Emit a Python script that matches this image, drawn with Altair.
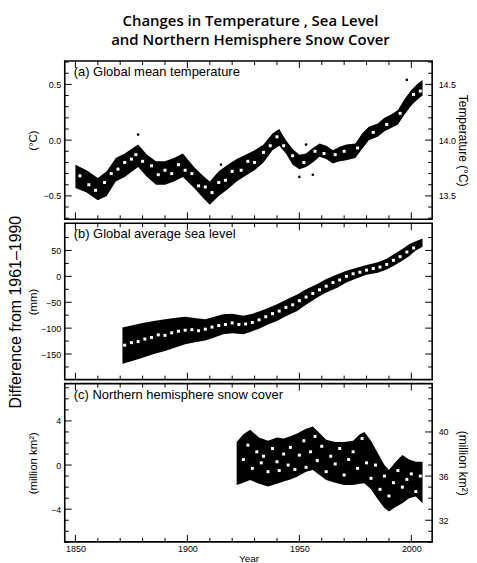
import altair as alt
import pandas as pd

FONT = "Liberation Sans"

# ---------------- (a) Global mean temperature ----------------
temp_years = [1850, 1855, 1860, 1864, 1868, 1872, 1878, 1882, 1886, 1890, 1894, 1898, 1903, 1907,
              1910, 1914, 1918, 1922, 1926, 1930, 1934, 1938, 1941, 1944, 1947, 1950, 1953, 1956,
              1959, 1962, 1965, 1968, 1971, 1975, 1978, 1981, 1985, 1988, 1991, 1994, 1997, 2000,
              2003, 2005]
temp_lo = [-0.43, -0.47, -0.54, -0.50, -0.37, -0.33, -0.24, -0.33, -0.40, -0.40, -0.37, -0.33, -0.43,
           -0.52, -0.58, -0.50, -0.44, -0.37, -0.32, -0.27, -0.20, -0.09, -0.05, -0.12, -0.22, -0.26,
           -0.24, -0.20, -0.15, -0.17, -0.21, -0.19, -0.18, -0.16, -0.08, 0.00, 0.03, 0.08, 0.11,
           0.14, 0.23, 0.31, 0.37, 0.40]
temp_hi = [-0.22, -0.27, -0.34, -0.28, -0.16, -0.12, -0.04, -0.13, -0.19, -0.19, -0.16, -0.12, -0.24,
           -0.32, -0.37, -0.28, -0.22, -0.17, -0.13, -0.09, -0.04, 0.06, 0.10, 0.00, -0.08, -0.13,
           -0.12, -0.07, -0.03, -0.05, -0.09, -0.06, -0.04, -0.03, 0.06, 0.12, 0.15, 0.20, 0.23,
           0.27, 0.37, 0.45, 0.51, 0.54]
temp_dot_years = [1852, 1856, 1859, 1863, 1866, 1869, 1872, 1875, 1877, 1880, 1884, 1887, 1890, 1893,
                  1896, 1899, 1902, 1905, 1908, 1911, 1914, 1917, 1920, 1924, 1927, 1930, 1934, 1937,
                  1940, 1943, 1947, 1952, 1957, 1961, 1966, 1970, 1976, 1983, 1989, 1995, 2001, 2004]
temp_dot_vals = [-0.32, -0.40, -0.45, -0.38, -0.30, -0.26, -0.20, -0.17, -0.13, -0.19, -0.23, -0.31,
                 -0.27, -0.30, -0.22, -0.27, -0.30, -0.41, -0.42, -0.47, -0.38, -0.36, -0.28, -0.27,
                 -0.19, -0.20, -0.11, -0.05, 0.03, -0.05, -0.14, -0.20, -0.10, -0.12, -0.13, -0.10,
                 -0.07, 0.07, 0.14, 0.24, 0.41, 0.44]
temp_out_years = [1878, 1915, 1950, 1953, 1956, 1998]
temp_out_vals = [0.05, -0.22, -0.33, -0.04, -0.31, 0.54]

# ---------------- (b) Global average sea level ----------------
sea_years = [1871, 1875, 1880, 1885, 1890, 1895, 1899, 1904, 1908, 1912, 1916, 1920, 1925, 1929,
             1932, 1936, 1940, 1944, 1949, 1953, 1958, 1962, 1967, 1971, 1976, 1980, 1985, 1989,
             1992, 1996, 1999, 2002, 2005]
sea_lo = [-169, -164, -157, -150, -144, -137, -131, -127, -124, -118, -112, -110, -112, -106, -101,
          -93, -86, -77, -67, -55, -41, -31, -22, -12, -3, 3, 7, 13, 20, 30, 39, 50, 57]
sea_hi = [-99, -95, -90, -86, -83, -80, -78, -81, -83, -78, -73, -72, -76, -72, -68, -61, -54, -45,
          -35, -25, -15, -5, 4, 11, 17, 22, 27, 34, 42, 53, 62, 68, 73]
sea_dot_years = [1872, 1875, 1878, 1881, 1884, 1887, 1890, 1893, 1896, 1899, 1902, 1905, 1908, 1911,
                 1914, 1917, 1920, 1923, 1926, 1929, 1932, 1935, 1938, 1941, 1944, 1947, 1950, 1953,
                 1956, 1959, 1962, 1965, 1968, 1971, 1974, 1977, 1980, 1983, 1986, 1989, 1992, 1995,
                 1998, 2001]
sea_dot_vals = [-133, -128, -126, -121, -118, -113, -114, -109, -106, -104, -103, -105, -102, -98,
                -95, -93, -90, -93, -92, -89, -84, -78, -72, -67, -60, -55, -47, -40, -33, -26, -19,
                -12, -7, 0, 5, 8, 12, 15, 18, 23, 31, 38, 47, 55]

# ---------------- (c) Northern hemisphere snow cover ----------------
snow_years = [1922, 1925, 1928, 1932, 1936, 1940, 1943, 1946, 1949, 1953, 1956, 1959, 1962, 1966,
              1970, 1974, 1977, 1979, 1982, 1985, 1988, 1990, 1993, 1996, 1999, 2002, 2005]
snow_lo = [-1.8, -1.6, -1.35, -1.7, -1.95, -1.7, -1.5, -1.3, -1.05, -0.6, -0.45, -0.9, -1.35, -1.6,
           -1.8, -1.8, -1.7, -1.65, -2.2, -3.1, -3.9, -4.2, -3.8, -3.45, -3.0, -2.85, -3.45]
snow_hi = [2.1, 2.8, 3.2, 2.5, 2.2, 2.5, 2.4, 2.6, 2.85, 3.3, 3.5, 2.9, 2.3, 2.1, 2.1, 2.2, 2.8,
           3.0, 2.2, 1.1, 0.0, -0.45, 0.3, 0.9, 0.5, 0.3, 0.3]
snow_dot_years = [1925, 1927, 1929, 1931, 1933, 1934, 1936, 1938, 1940, 1941, 1943, 1945, 1946, 1948,
                  1950, 1952, 1953, 1955, 1957, 1958, 1960, 1962, 1964, 1966, 1968, 1970, 1972, 1974,
                  1976, 1978, 1980, 1982, 1984, 1986, 1988, 1990, 1992, 1994, 1996, 1998, 2000, 2002,
                  2004]
snow_dot_vals = [0.5, 1.8, -0.3, 1.2, 0.2, 0.8, -0.6, 1.5, 0.3, -0.5, 1.0, 0.0, 1.6, -0.4, 0.9, 2.2,
                 -0.2, 1.2, 2.6, 0.4, 1.7, -0.6, 0.8, 0.1, 1.5, -0.9, 0.5, 1.2, -0.3, 2.4, 0.2, -1.2,
                 0.0, -2.2, -1.0, -2.8, -1.6, -0.5, -2.0, -1.3, -0.8, -2.4, -1.0]

# ---------------- ticks ----------------
x_major = [1850, 1900, 1950, 2000]
x_minor = [1860, 1870, 1880, 1890, 1910, 1920, 1930, 1940, 1960, 1970, 1980, 1990]

a_major = [-0.5, 0.0, 0.5]
a_minor = [-0.7, -0.6, -0.4, -0.3, -0.2, -0.1, 0.1, 0.2, 0.3, 0.4, 0.6, 0.7]
b_major = [-150, -100, -50, 0, 50]
b_minor = [-175, -125, -75, -25, 25, 75]
c_major = [-4, 0, 4]
c_minor = [-7, -6, -5, -3, -2, -1, 1, 2, 3, 5, 6, 7]
c_right_major = [-5, -1, 3]   # 32, 36, 40 million km2
c_right_minor = [-7, -6, -4, -3, -2, 0, 1, 2, 4, 5, 6, 7]

W = 369
XD = [1845.24, 2009.3]
MAJ, MIN = 7, 4


def xs():
    return alt.Scale(domain=XD, nice=False, zero=False)


def panel(H, ydom, band, dots, outs, label,
          lmaj, lmin, lexpr, ltitle,
          rmaj, rmin, rexpr, rtitle, bottom_axis=False):
    def ys():
        return alt.Scale(domain=ydom, nice=False, zero=False)

    layers = []
    layers.append(alt.Chart(band).mark_area(color="black", opacity=1).encode(
        x=alt.X("year:Q", scale=xs(), axis=None),
        y=alt.Y("lo:Q", scale=ys(), axis=None),
        y2="hi:Q"))
    layers.append(alt.Chart(dots).mark_square(color="white", size=9, opacity=1).encode(
        x=alt.X("year:Q", scale=xs(), axis=None),
        y=alt.Y("v:Q", scale=ys(), axis=None)))
    if outs is not None:
        layers.append(alt.Chart(outs).mark_circle(color="black", size=7, opacity=1).encode(
            x=alt.X("year:Q", scale=xs(), axis=None),
            y=alt.Y("v:Q", scale=ys(), axis=None)))

    # left ticks (with left axis labels)
    laxis = alt.Axis(orient="left", values=lmaj, labelExpr=lexpr, ticks=False, tickSize=0,
                     domain=False, grid=False, labelPadding=4, title=ltitle,
                     titleX=-31, titleY=H / 2, titleAngle=-90, titleBaseline="middle",
                     titleAlign="center", titleFontSize=11.5)
    layers.append(alt.Chart(pd.DataFrame({"t": lmaj})).mark_rule(color="black", strokeWidth=1).encode(
        y=alt.Y("t:Q", scale=ys(), axis=laxis), x=alt.value(0), x2=alt.value(MAJ)))
    layers.append(alt.Chart(pd.DataFrame({"t": lmin})).mark_rule(color="black", strokeWidth=1).encode(
        y=alt.Y("t:Q", scale=ys(), axis=None), x=alt.value(0), x2=alt.value(MIN)))

    # right ticks (with right axis labels)
    if rexpr is not None:
        raxis = alt.Axis(orient="right", values=rmaj, labelExpr=rexpr, ticks=False, tickSize=0,
                         domain=False, grid=False, labelPadding=6, title=rtitle,
                         titleX=30, titleY=H / 2, titleAngle=90, titleBaseline="middle",
                         titleAlign="center", titleFontSize=12)
    else:
        raxis = None
    layers.append(alt.Chart(pd.DataFrame({"t": rmaj})).mark_rule(color="black", strokeWidth=1).encode(
        y=alt.Y("t:Q", scale=ys(), axis=raxis), x=alt.value(W), x2=alt.value(W - MAJ)))
    layers.append(alt.Chart(pd.DataFrame({"t": rmin})).mark_rule(color="black", strokeWidth=1).encode(
        y=alt.Y("t:Q", scale=ys(), axis=None), x=alt.value(W), x2=alt.value(W - MIN)))

    # top / bottom ticks
    if bottom_axis:
        xaxis = alt.Axis(orient="bottom", values=x_major, format="d", ticks=False, tickSize=0,
                         domain=False, grid=False, labelPadding=3, title="Year",
                         titleFontSize=10, titlePadding=0, titleFontWeight="normal")
    else:
        xaxis = None
    layers.append(alt.Chart(pd.DataFrame({"t": x_major})).mark_rule(color="black", strokeWidth=1).encode(
        x=alt.X("t:Q", scale=xs(), axis=xaxis), y=alt.value(H), y2=alt.value(H - MAJ)))
    layers.append(alt.Chart(pd.DataFrame({"t": x_minor})).mark_rule(color="black", strokeWidth=1).encode(
        x=alt.X("t:Q", scale=xs(), axis=None), y=alt.value(H), y2=alt.value(H - MIN)))
    layers.append(alt.Chart(pd.DataFrame({"t": x_major})).mark_rule(color="black", strokeWidth=1).encode(
        x=alt.X("t:Q", scale=xs(), axis=None), y=alt.value(0), y2=alt.value(MAJ)))
    layers.append(alt.Chart(pd.DataFrame({"t": x_minor})).mark_rule(color="black", strokeWidth=1).encode(
        x=alt.X("t:Q", scale=xs(), axis=None), y=alt.value(0), y2=alt.value(MIN)))

    layers.append(alt.Chart(pd.DataFrame({"k": [0]})).mark_text(
        text=label, align="left", baseline="alphabetic", font=FONT, fontSize=13, color="black"
    ).encode(x=alt.value(9), y=alt.value(15)))

    return alt.layer(*layers).resolve_axis(y="independent", x="independent").properties(
        width=W, height=H)


band_a = pd.DataFrame({"year": temp_years, "lo": temp_lo, "hi": temp_hi})
dots_a = pd.DataFrame({"year": temp_dot_years, "v": temp_dot_vals})
outs_a = pd.DataFrame({"year": temp_out_years, "v": temp_out_vals})
band_b = pd.DataFrame({"year": sea_years, "lo": sea_lo, "hi": sea_hi})
dots_b = pd.DataFrame({"year": sea_dot_years, "v": sea_dot_vals})
band_c = pd.DataFrame({"year": snow_years, "lo": snow_lo, "hi": snow_hi})
dots_c = pd.DataFrame({"year": snow_dot_years, "v": snow_dot_vals})

pa = panel(159, [-0.71, 0.71], band_a, dots_a, outs_a, "(a) Global mean temperature",
           a_major, a_minor, "format(datum.value, '.1f')", "(°C)",
           a_major, a_minor, "format(datum.value + 14, '.1f')", "Temperature (°C)")
pb = panel(157, [-199.4, 102.5], band_b, dots_b, None, "(b) Global average sea level",
           b_major, b_minor, "format(datum.value, 'd')", "(mm)",
           b_major, b_minor, None, None)
pc = panel(159, [-6.96, 7.38], band_c, dots_c, None, "(c) Northern hemisphere snow cover",
           c_major, c_minor, "format(datum.value, 'd')", "(million km²)",
           c_right_major, c_right_minor, "format(datum.value + 37, 'd')", "(million km²)",
           bottom_axis=True)

inner = alt.vconcat(pa, pb, pc, spacing=0).properties(
    title=alt.TitleParams("Difference from 1961–1990", orient="left", anchor="middle",
                          font=FONT, fontSize=16, fontWeight="normal", color="black", offset=3))

chart = alt.vconcat(inner).properties(
    title=alt.TitleParams(["Changes in Temperature , Sea Level", "and Northern Hemisphere Snow Cover"],
                          anchor="middle", font="Open Sans", fontSize=15, fontWeight=600,
                          color="black", lineHeight=19, offset=12, dx=12),
    padding={"left": 0, "top": 4, "right": 0, "bottom": 2}
).configure_view(stroke="black", strokeWidth=1.6).configure_axis(
    labelFont=FONT, labelFontSize=9, labelColor="black", titleFont=FONT, titleColor="black",
    titleFontWeight="normal"
).configure_concat(spacing=0)

chart.save("out.html", embed_options={"renderer": "svg", "actions": False})
